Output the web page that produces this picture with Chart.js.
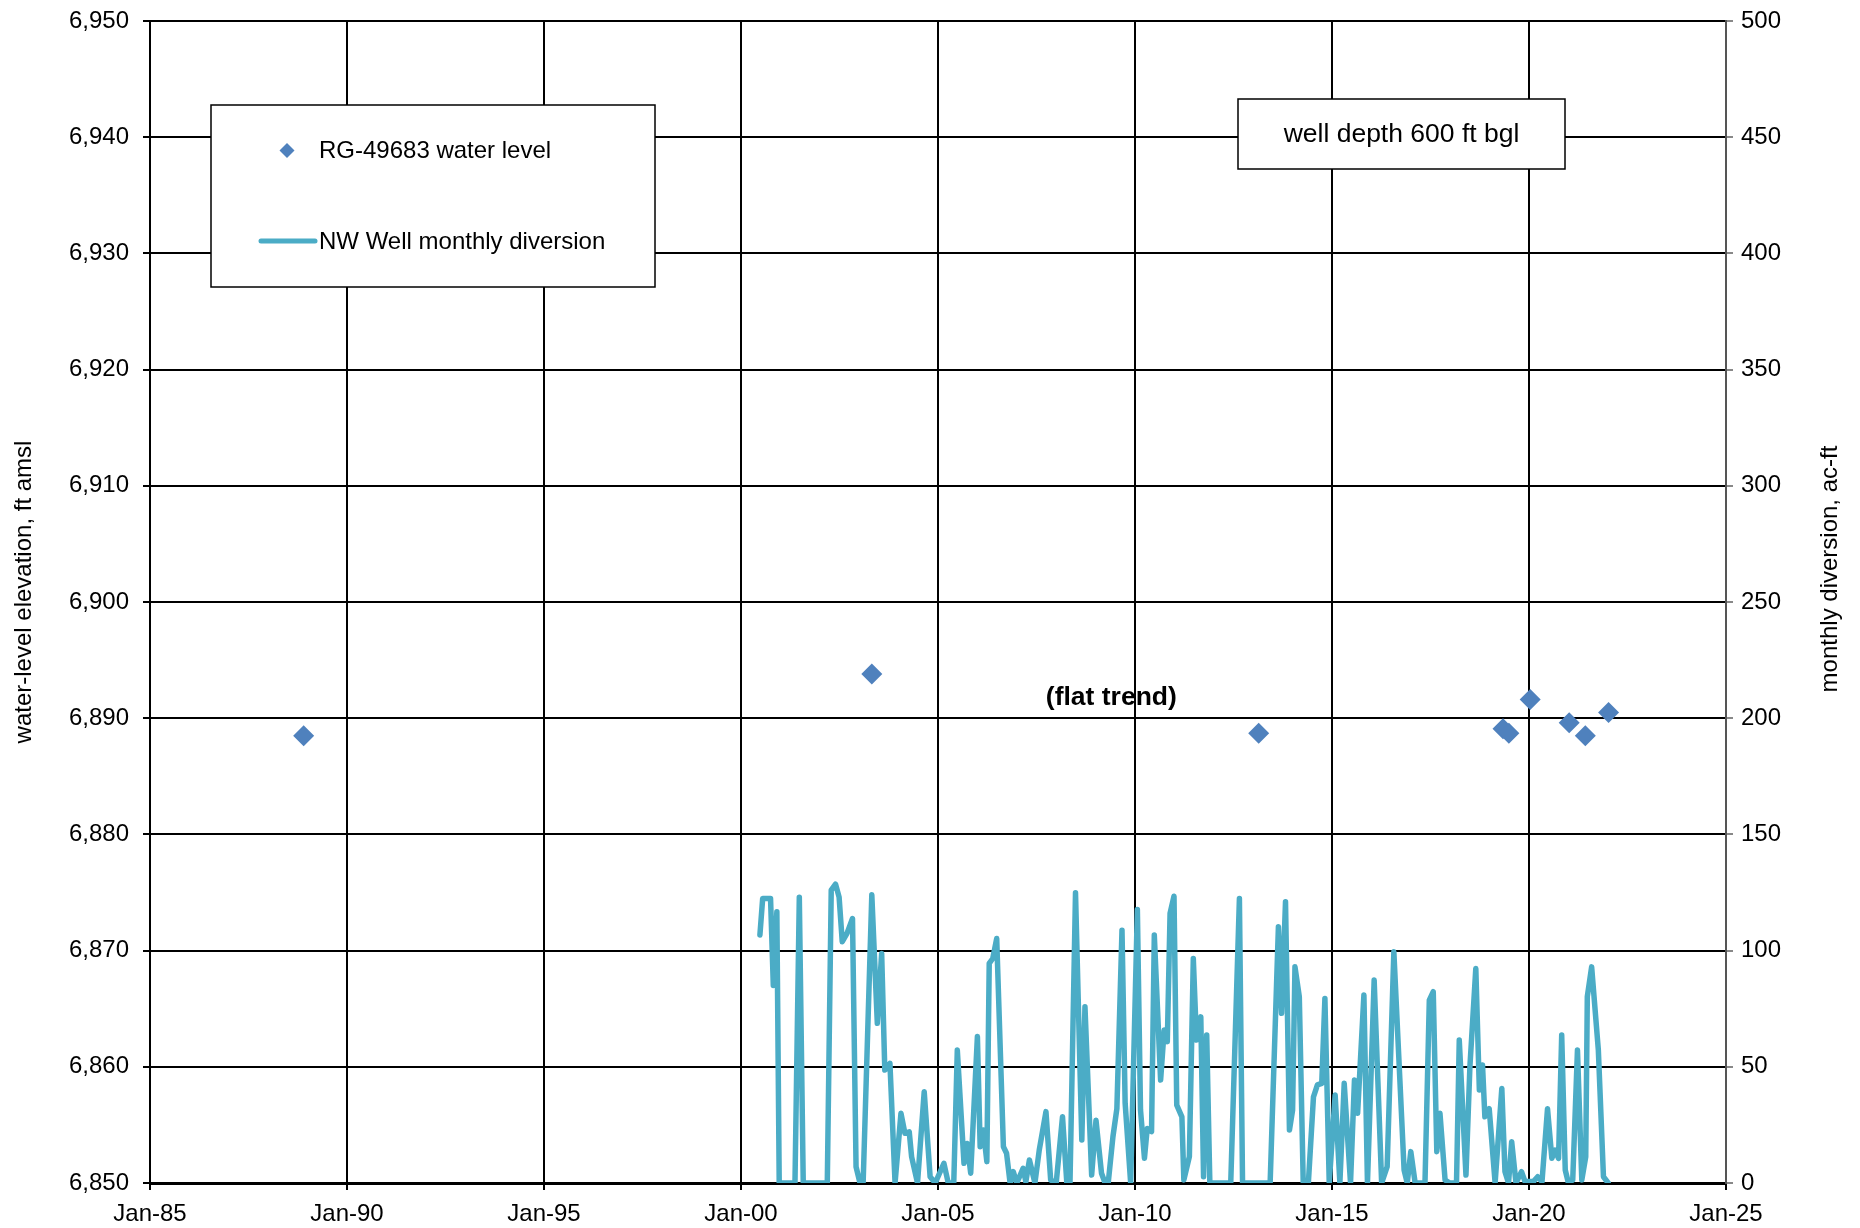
<!DOCTYPE html>
<html>
<head>
<meta charset="utf-8">
<script src="https://cdn.jsdelivr.net/npm/chart.js@4.4.0/dist/chart.umd.min.js"></script>
<style>
  body { margin: 0; background: #fff; }
  #wrap { width: 1860px; height: 1228px; }
</style>
</head>
<body>
<div id="wrap"><canvas id="myChart" width="1860" height="1228"></canvas></div>
<script>
// water level measurements (decimal year, ft amsl)
var levelDates = [1988.90, 2003.32, 2013.14, 2019.34, 2019.49, 2020.03, 2021.02, 2021.43, 2022.02];
var levelValues = [6888.5, 6893.8, 6888.7, 6889.1, 6888.7, 6891.6, 6889.6, 6888.5, 6890.5];

// NW well monthly diversion (decimal year, ac-ft)
var divDates = [
  2000.48, 2000.55, 2000.75, 2000.82, 2000.91, 2000.97, 2001.37, 2001.48, 2001.58, 2002.19,
  2002.29, 2002.40, 2002.49, 2002.57, 2002.69, 2002.83, 2002.92, 2003.02, 2003.10, 2003.32,
  2003.46, 2003.57, 2003.65, 2003.78, 2003.91, 2004.06, 2004.16, 2004.27, 2004.33, 2004.48,
  2004.65, 2004.80, 2004.93, 2005.15, 2005.26, 2005.40, 2005.49, 2005.66, 2005.74, 2005.83,
  2006.00, 2006.07, 2006.15, 2006.24, 2006.30, 2006.39, 2006.49, 2006.66, 2006.74, 2006.83,
  2006.91, 2007.00, 2007.16, 2007.23, 2007.32, 2007.46, 2007.57, 2007.74, 2007.86, 2008.00,
  2008.16, 2008.27, 2008.35, 2008.49, 2008.65, 2008.73, 2008.90, 2009.01, 2009.15, 2009.24,
  2009.32, 2009.44, 2009.54, 2009.67, 2009.75, 2009.89, 2010.06, 2010.14, 2010.24, 2010.31,
  2010.42, 2010.49, 2010.65, 2010.74, 2010.82, 2010.89, 2010.99, 2011.06, 2011.19, 2011.24,
  2011.38, 2011.48, 2011.56, 2011.67, 2011.74, 2011.82, 2011.90, 2012.43, 2012.65, 2012.73,
  2013.43, 2013.64, 2013.72, 2013.82, 2013.92, 2014.00, 2014.06, 2014.17, 2014.27, 2014.40,
  2014.53, 2014.63, 2014.74, 2014.82, 2014.93, 2015.08, 2015.20, 2015.31, 2015.47, 2015.57,
  2015.65, 2015.81, 2015.90, 2016.07, 2016.26, 2016.40, 2016.57, 2016.83, 2016.91, 2017.00,
  2017.11, 2017.36, 2017.47, 2017.57, 2017.66, 2017.74, 2017.87, 2017.99, 2018.16, 2018.23,
  2018.40, 2018.50, 2018.65, 2018.74, 2018.82, 2018.88, 2018.99, 2019.14, 2019.31, 2019.39,
  2019.48, 2019.56, 2019.67, 2019.81, 2019.90, 2020.11, 2020.22, 2020.33, 2020.47, 2020.58,
  2020.66, 2020.75, 2020.83, 2020.92, 2021.00, 2021.11, 2021.23, 2021.34, 2021.44, 2021.48,
  2021.59, 2021.76, 2021.89, 2022.01
];
var divValues = [
  106.7, 122.4, 122.4, 85.0, 116.7, 0, 0, 123.0, 0, 0,
  126.0, 128.6, 123.0, 103.8, 107.4, 113.8, 7.0, 0, 0, 124.0,
  68.7, 98.8, 48.6, 51.5, 0, 30.0, 21.4, 22.0, 11.3, 0,
  39.3, 2.7, 0, 8.5, 0, 0, 57.2, 8.5, 17.0, 4.2,
  63.0, 15.6, 22.8, 9.2, 94.5, 96.6, 105.2, 15.6, 12.8, 0,
  4.9, 0, 6.3, 0.6, 9.9, 0, 14.2, 30.7, 1.3, 0,
  28.5, 0, 0, 124.9, 18.5, 75.8, 3.4, 27.0, 4.2, 0,
  0, 19.9, 32.0, 108.8, 34.3, 0, 117.7, 31.4, 10.6, 23.5,
  22.1, 106.7, 44.3, 65.8, 60.8, 116.0, 123.4, 33.5, 28.5, 1.3,
  11.3, 96.6, 61.5, 71.5, 2.7, 63.7, 0, 0, 122.4, 0,
  0, 110.3, 73.0, 121.0, 22.8, 31.4, 93.0, 80.2, 0, 0,
  37.1, 42.2, 42.9, 79.4, 0, 37.9, 0, 42.9, 0, 44.3,
  30.0, 80.9, 0, 87.3, 0, 7.0, 99.5, 5.6, 0, 13.5,
  0, 0, 78.7, 82.3, 13.5, 30.0, 1.3, 0, 0, 61.5,
  3.4, 50.0, 92.3, 40.0, 50.8, 28.5, 32.0, 0, 40.7, 4.9,
  0, 17.8, 0, 4.9, 0.6, 0.6, 2.7, 0.6, 32.0, 10.6,
  14.2, 10.6, 63.7, 5.6, 0, 1.3, 57.2, 1.3, 11.3, 80.2,
  93.0, 57.2, 2.7, 0
];

var xTicks = [1985, 1990, 1995, 2000, 2005, 2010, 2015, 2020, 2025];
var seriesNames = ['RG-49683 water level', 'NW Well monthly diversion'];
var leftTitle = 'water-level elevation, ft amsl';
var rightTitle = 'monthly diversion, ac-ft';
var boxNote = 'well depth 600 ft bgl';
var trendNote = '(flat trend)';

var FONT = '"Liberation Sans", Arial, Helvetica, sans-serif';
var levelColor = '#4F81BD';
var divColor = '#4BACC6';

var levelPts = levelDates.map(function (d, i) { return { x: d, y: levelValues[i] }; });
var divPts = divDates.map(function (d, i) { return { x: d, y: divValues[i] }; });

// legend, text box, note and axis titles drawn by hand
var extras = {
  id: 'extras',
  afterDraw: function (chart) {
    var ctx = chart.ctx;
    var a = chart.chartArea;
    var sx = chart.scales.x, sy = chart.scales.y;
    ctx.save();

    // legend box
    var lx = a.left + 61, ly = a.top + 84;
    ctx.fillStyle = '#fff';
    ctx.fillRect(lx, ly, 444, 182);
    ctx.strokeStyle = '#000';
    ctx.lineWidth = 1.5;
    ctx.strokeRect(lx, ly, 444, 182);
    ctx.fillStyle = levelColor;
    ctx.beginPath();
    ctx.moveTo(lx + 76, ly + 38);
    ctx.lineTo(lx + 83.5, ly + 45.5);
    ctx.lineTo(lx + 76, ly + 53);
    ctx.lineTo(lx + 68.5, ly + 45.5);
    ctx.closePath();
    ctx.fill();
    ctx.strokeStyle = divColor;
    ctx.lineWidth = 5;
    ctx.lineCap = 'round';
    ctx.beginPath();
    ctx.moveTo(lx + 50, ly + 136);
    ctx.lineTo(lx + 104, ly + 136);
    ctx.stroke();
    ctx.fillStyle = '#000';
    ctx.font = '24px ' + FONT;
    ctx.textAlign = 'left';
    ctx.textBaseline = 'middle';
    ctx.fillText(seriesNames[0], lx + 108, ly + 46);
    ctx.fillText(seriesNames[1], lx + 108, ly + 137);

    // well depth box
    var bx = a.left + 1088, by = a.top + 78;
    ctx.fillStyle = '#fff';
    ctx.fillRect(bx, by, 327, 70);
    ctx.strokeStyle = '#000';
    ctx.lineWidth = 1.5;
    ctx.strokeRect(bx, by, 327, 70);
    ctx.fillStyle = '#000';
    ctx.textAlign = 'center';
    ctx.font = '26.5px ' + FONT;
    ctx.fillText(boxNote, bx + 163.5, by + 36);

    // flat trend note
    ctx.font = 'bold 26.5px ' + FONT;
    ctx.fillText(trendNote, sx.getPixelForValue(2009.4), sy.getPixelForValue(6891.8));

    // axis titles
    ctx.font = '24px ' + FONT;
    ctx.save();
    ctx.translate(24, (a.top + a.bottom) / 2 - 10);
    ctx.rotate(-Math.PI / 2);
    ctx.fillText(leftTitle, 0, 0);
    ctx.restore();
    ctx.save();
    ctx.translate(1830, (a.top + a.bottom) / 2 - 33);
    ctx.rotate(-Math.PI / 2);
    ctx.fillText(rightTitle, 0, 0);
    ctx.restore();

    ctx.restore();
  }
};

var ctx = document.getElementById('myChart').getContext('2d');
var myChart = new Chart(ctx, {
  data: {
    datasets: [
      {
        type: 'scatter',
        label: seriesNames[0],
        data: levelPts,
        yAxisID: 'y',
        pointStyle: 'rectRot',
        pointRadius: 10.5,
        pointHoverRadius: 10.5,
        backgroundColor: levelColor,
        borderColor: levelColor,
        borderWidth: 0,
        order: 1
      },
      {
        type: 'line',
        label: seriesNames[1],
        data: divPts,
        yAxisID: 'y1',
        borderColor: divColor,
        backgroundColor: divColor,
        borderWidth: 5.5,
        borderJoinStyle: 'round',
        borderCapStyle: 'round',
        pointRadius: 0,
        tension: 0,
        fill: false,
        order: 2
      }
    ]
  },
  options: {
    responsive: false,
    animation: false,
    devicePixelRatio: 1,
    layout: { padding: { top: 21, left: 0, right: 0, bottom: 0 } },
    plugins: {
      legend: { display: false },
      tooltip: { enabled: false }
    },
    scales: {
      x: {
        type: 'linear',
        min: 1985,
        max: 2025,
        afterBuildTicks: function (s) { s.ticks = xTicks.map(function (v) { return { value: v }; }); },
        afterFit: function (s) { s.height = 1228 - 1183; s.paddingLeft = 0; s.paddingRight = 0; },
        ticks: {
          color: '#000',
          font: { family: FONT, size: 24 },
          padding: 10,
          maxRotation: 0,
          callback: function (v) { return 'Jan-' + String(v).slice(2); }
        },
        grid: { color: '#000', lineWidth: 2, tickLength: 7 },
        border: { color: '#000', width: 3 }
      },
      y: {
        position: 'left',
        min: 6850,
        max: 6950,
        afterFit: function (s) { s.width = 150; s.paddingTop = 0; s.paddingBottom = 0; },
        ticks: {
          stepSize: 10,
          color: '#000',
          font: { family: FONT, size: 24 },
          padding: 14,
          callback: function (v) { return v.toLocaleString('en-US'); }
        },
        grid: { color: '#000', lineWidth: 2, tickLength: 7 },
        border: { color: '#000', width: 2 }
      },
      y1: {
        position: 'right',
        min: 0,
        max: 500,
        afterFit: function (s) { s.width = 1860 - 1726; s.paddingTop = 0; s.paddingBottom = 0; },
        ticks: {
          stepSize: 50,
          color: '#000',
          font: { family: FONT, size: 24 },
          padding: 8
        },
        grid: { drawOnChartArea: false, color: '#888', lineWidth: 2, tickLength: 7 },
        border: { color: '#555', width: 2 }
      }
    }
  },
  plugins: [extras]
});
</script>
</body>
</html>
